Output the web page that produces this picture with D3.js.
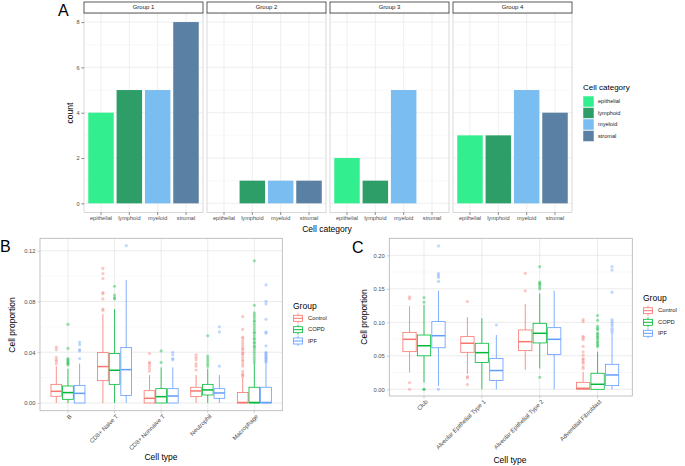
<!DOCTYPE html>
<html>
<head>
<meta charset="utf-8">
<script src="https://cdn.jsdelivr.net/npm/d3@7"></script>
<style>
body{margin:0;background:#fff}
svg{display:block;font-family:"Liberation Sans",Arial,sans-serif}
</style>
</head>
<body>
<svg id="chart" width="685" height="466"></svg>
<script>
// ---- panel A data
const groupsA=["Group 1","Group 2","Group 3","Group 4"];
const cellCats=["epithelial","lymphoid","myeloid","stromal"];
const countsA=[[4,5,5,8],[0,1,1,1],[2,1,5,0],[3,3,5,4]];
const catColors=["#33ee8e","#2e9e68","#7abdf0","#5a80a4"];
const yTicksA=[0,2,4,6,8];

// ---- shared groups for B and C
const statusGroups=["Control","COPD","IPF"];
const groupColors=["#F8766D","#00BA38","#619CFF"];

// ---- panel B data: [lower whisker, q1, median, q3, upper whisker]
const cellTypesB=["B","CD8+ Naive T","CD8+ Nonnaive T","Neutrophil","Macrophage"];
const statsB=[
  [[0,0.0053,0.0092,0.0147,0.029],[0,0.0029,0.0082,0.0134,0.027],[0,0,0.0076,0.0139,0.031]],
  [[0,0.0176,0.0287,0.0397,0.070],[0,0.0147,0.0258,0.039,0.074],[0,0.006,0.0263,0.0437,0.097]],
  [[0,0,0.0037,0.0097,0.022],[0,0,0.005,0.0113,0.028],[0,0,0.0055,0.0113,0.028]],
  [[0,0.005,0.0095,0.0124,0.022],[0,0.0063,0.0103,0.0147,0.027],[0,0.0037,0.0079,0.0113,0.022]],
  [[0,0,0.0004,0.0082,0.020],[0,0,0.0004,0.0124,0.031],[0,0,0.0004,0.0124,0.031]]
];
const outliersB=[
  [[0.044,0.042,0.036,0.034,0.033,0.031],[0.062,0.043,0.035,0.034,0.033,0.032,0.031,0.030],[0.048,0.046,0.042,0.041,0.035]],
  [[0.106,0.102,0.098,0.087,0.086,0.082,0.074,0.073],[0.092,0.085,0.083,0.082],[0.124]],
  [[0.039,0.032,0.031,0.029,0.027,0.025],[0.041,0.032],[0.040,0.038,0.035,0.034]],
  [[0.038,0.036,0.034,0.031,0.029,0.026],[0.053,0.037,0.035,0.033,0.031,0.029],[0.060,0.056,0.029]],
  [[0.068,0.058,0.052,0.051,0.049,0.047,0.045,0.043,0.042,0.040,0.039,0.038,0.036,0.034,0.033,0.031,0.029,0.025,0.023,0.022,0.021],
   [0.112,0.077,0.071,0.069,0.067,0.065,0.064,0.062,0.060,0.058,0.056,0.055,0.053,0.051,0.050,0.048,0.047,0.045,0.044,0.042,0.040,0.038,0.036,0.034,0.032],
   [0.093,0.080,0.078,0.066,0.056,0.055,0.045,0.040,0.039,0.038,0.037,0.036,0.035,0.034,0.033,0.032]]
];
const yTicksB=[0,0.04,0.08,0.12];

// ---- panel C data
const cellTypesC=["Club","Alveolar Epithelial Type 1","Alveolar Epithelial Type 2","Adventitial Fibroblast"];
const statsC=[
  [[0.025,0.0562,0.0746,0.085,0.124],[0.010,0.050,0.065,0.081,0.126],[0.005,0.062,0.080,0.101,0.147]],
  [[0.023,0.0552,0.0687,0.0786,0.1075],[0,0.040,0.0547,0.0687,0.106],[0,0.013,0.028,0.046,0.081]],
  [[0.029,0.0577,0.0711,0.0886,0.127],[0.031,0.0692,0.0836,0.0985,0.143],[0,0.052,0.0746,0.092,0.147]],
  [[0,0,0.0015,0.0104,0.026],[0,0,0.0075,0.0239,0.056],[0,0.0055,0.0214,0.0373,0.0836]]
];
const outliersC=[
  [[0.138,0.135,0.010,0],[0.137,0.130,0,0],[0.214,0.173,0.170,0.167,0.161,0]],
  [[0.131,0.019,0.017,0.007],[],[0.096]],
  [[0.173,0.147],[0.183,0.160,0.158,0.156,0.153,0.150,0.018],[]],
  [[0.104,0.101,0.079,0.077,0.074,0.064,0.056,0.051,0.046,0.044,0.041,0.039,0.034,0.031],
   [0.110,0.103,0.094,0.091,0.089,0.084,0.082,0.079,0.077,0.074,0.071,0.069,0.066,0.064],
   [0.183,0.178,0.145,0.104,0.101,0.098,0.095,0.091,0.088,0.085]]
];
const yTicksC=[0,0.05,0.10,0.15,0.20];

const svg=d3.select("#chart");
const tickCol="#4d4d4d";
const tickSize=5.8, titleSize=8.5;

function label(x,y,txt,size,opts){
  opts=opts||{};
  const t=svg.append("text").attr("x",x).attr("y",y).text(txt)
    .attr("font-size",size).attr("fill",opts.fill||"#000")
    .attr("text-anchor",opts.anchor||"start")
    .attr("dominant-baseline",opts.base||"middle");
  if(opts.rotate) t.attr("transform","rotate("+opts.rotate+","+x+","+y+")");
  return t;
}

// ================= Panel A =================
function panelA(){
  const top=13,bottom=212.4,w=119;
  const y=d3.scaleLinear().domain([-0.4,8.4]).range([bottom,top]);
  groupsA.forEach((g,gi)=>{
    const left=84+gi*123;
    const x=d3.scalePoint().domain(cellCats).range([left,left+w]).padding(0.6);
    const bw=x.step()*0.9;
    const p=svg.append("g");
    // minor grid
    [1,3,5,7].forEach(v=>p.append("line").attr("x1",left).attr("x2",left+w)
      .attr("y1",y(v)).attr("y2",y(v)).attr("stroke","#f2f2f2").attr("stroke-width",0.5));
    yTicksA.forEach(v=>p.append("line").attr("x1",left).attr("x2",left+w)
      .attr("y1",y(v)).attr("y2",y(v)).attr("stroke","#ebebeb").attr("stroke-width",0.8));
    cellCats.forEach(c=>p.append("line").attr("x1",x(c)).attr("x2",x(c))
      .attr("y1",top).attr("y2",bottom).attr("stroke","#ebebeb").attr("stroke-width",0.8));
    // bars
    p.selectAll("rect.bar").data(countsA[gi].map((v,i)=>({c:cellCats[i],v:v,i:i})).filter(d=>d.v>0))
      .enter().append("rect").attr("class","bar")
      .attr("x",d=>x(d.c)-bw/2).attr("width",bw)
      .attr("y",d=>y(d.v)).attr("height",d=>y(0)-y(d.v))
      .attr("fill",d=>catColors[d.i]);
    // border
    p.append("rect").attr("x",left).attr("y",top).attr("width",w).attr("height",bottom-top)
      .attr("fill","none").attr("stroke","#cfcfcf").attr("stroke-width",0.8);
    // strip
    p.append("rect").attr("x",left).attr("y",2).attr("width",w).attr("height",top-2)
      .attr("fill","#fff").attr("stroke","#333").attr("stroke-width",0.8);
    label(left+w/2,7.7,g,6,{anchor:"middle",fill:"#1a1a1a"});
    // x axis ticks + labels
    cellCats.forEach(c=>{
      p.append("line").attr("x1",x(c)).attr("x2",x(c)).attr("y1",bottom).attr("y2",bottom+2.5)
        .attr("stroke","#333").attr("stroke-width",0.6);
      label(x(c),bottom+6,c,5.6,{anchor:"middle",fill:tickCol});
    });
  });
  // y axis
  const ax=svg.append("g").attr("transform","translate(84,0)")
    .call(d3.axisLeft(y).tickValues(yTicksA).tickSize(2.5).tickPadding(2));
  ax.select(".domain").remove();
  ax.selectAll("line").attr("stroke","#333").attr("stroke-width",0.6);
  ax.selectAll("text").attr("font-size",5.6).attr("fill",tickCol).attr("font-family","Liberation Sans, Arial");
  label(71,113,"count",titleSize,{anchor:"middle",rotate:-90});
  label(327,229.5,"Cell category",titleSize,{anchor:"middle"});
  label(58,12,"A",16,{});
  // legend
  label(583,88,"Cell category",8,{});
  cellCats.forEach((c,i)=>{
    const ky=96+i*11.5;
    svg.append("rect").attr("x",583).attr("y",ky).attr("width",11).attr("height",11)
      .attr("fill",catColors[i]).attr("stroke","#fff").attr("stroke-width",0.5);
    label(598,ky+5.7,c,5.6,{fill:"#1a1a1a"});
  });
}

// ================= Box panels =================
function boxPanel(cfg){
  const {left,right,top,bottom,y,types,stats,outs,ticks,minor,fmt}=cfg;
  const x=d3.scalePoint().domain(types).range([left,right]).padding(0.6);
  const step=x.step();
  const p=svg.append("g");
  minor.forEach(v=>p.append("line").attr("x1",left).attr("x2",right)
    .attr("y1",y(v)).attr("y2",y(v)).attr("stroke","#f2f2f2").attr("stroke-width",0.5));
  ticks.forEach(v=>p.append("line").attr("x1",left).attr("x2",right)
    .attr("y1",y(v)).attr("y2",y(v)).attr("stroke","#e6e6e6").attr("stroke-width",0.8));
  types.forEach(t=>p.append("line").attr("x1",x(t)).attr("x2",x(t))
    .attr("y1",top).attr("y2",bottom).attr("stroke","#e6e6e6").attr("stroke-width",0.8));

  const bw=step*0.23;
  types.forEach((t,ti)=>{
    statusGroups.forEach((g,gi)=>{
      const cx=x(t)+(gi-1)*step*0.25;
      const s=stats[ti][gi], col=groupColors[gi];
      p.append("line").attr("x1",cx).attr("x2",cx).attr("y1",y(s[3])).attr("y2",y(s[4]))
        .attr("stroke",col).attr("stroke-width",0.8);
      p.append("line").attr("x1",cx).attr("x2",cx).attr("y1",y(s[1])).attr("y2",y(s[0]))
        .attr("stroke",col).attr("stroke-width",0.8);
      p.append("rect").attr("x",cx-bw/2).attr("width",bw)
        .attr("y",y(s[3])).attr("height",Math.max(0,y(s[1])-y(s[3])))
        .attr("fill","#fff").attr("stroke",col).attr("stroke-width",0.8);
      p.append("line").attr("x1",cx-bw/2).attr("x2",cx+bw/2).attr("y1",y(s[2])).attr("y2",y(s[2]))
        .attr("stroke",col).attr("stroke-width",1.5);
      p.selectAll(null).data(outs[ti][gi]).enter().append("circle")
        .attr("cx",cx).attr("cy",d=>y(d)).attr("r",1.6)
        .attr("fill",col).attr("opacity",0.4);
    });
  });
  p.append("rect").attr("x",left).attr("y",top).attr("width",right-left).attr("height",bottom-top)
    .attr("fill","none").attr("stroke","#b3b3b3").attr("stroke-width",0.8);
  // y axis
  const ax=svg.append("g").attr("transform","translate("+left+",0)")
    .call(d3.axisLeft(y).tickValues(ticks).tickFormat(d3.format(fmt)).tickSize(2.5).tickPadding(2));
  ax.select(".domain").remove();
  ax.selectAll("line").attr("stroke","#b3b3b3").attr("stroke-width",0.6);
  ax.selectAll("text").attr("font-size",tickSize).attr("fill",tickCol).attr("font-family","Liberation Sans, Arial");
  // x ticks and rotated labels
  types.forEach(t=>{
    p.append("line").attr("x1",x(t)).attr("x2",x(t)).attr("y1",bottom).attr("y2",bottom+2.5)
      .attr("stroke","#b3b3b3").attr("stroke-width",0.6);
    svg.append("text").attr("x",0).attr("y",0)
      .attr("transform","translate("+(x(t)+2)+","+(bottom+4)+") rotate(-45)")
      .attr("text-anchor","end").attr("dy","0.5em")
      .attr("font-size",6).attr("fill",tickCol).text(t);
  });
}

function groupLegend(lx,ly,keys){
  label(lx,ly,"Group",titleSize,{});
  statusGroups.forEach((g,i)=>{
    const cy=keys[i], col=groupColors[i], kx=lx+5;
    svg.append("line").attr("x1",kx).attr("x2",kx).attr("y1",cy-5).attr("y2",cy+5).attr("stroke",col).attr("stroke-width",0.8);
    svg.append("rect").attr("x",kx-4.5).attr("y",cy-3).attr("width",9).attr("height",6)
      .attr("fill","#fff").attr("stroke",col).attr("stroke-width",0.8);
    svg.append("line").attr("x1",kx-4.5).attr("x2",kx+4.5).attr("y1",cy).attr("y2",cy).attr("stroke",col).attr("stroke-width",1);
    label(lx+15,cy,g,5.8,{fill:"#1a1a1a"});
  });
}

panelA();

boxPanel({left:40,right:282.3,top:238.3,bottom:410.7,
  y:d3.scaleLinear().domain([0,0.12]).range([403,250.7]),
  types:cellTypesB,stats:statsB,outs:outliersB,ticks:yTicksB,minor:[0.02,0.06,0.10],fmt:".2f"});
label(13,325,"Cell proportion",titleSize,{anchor:"middle",rotate:-90});
label(161,458,"Cell type",titleSize,{anchor:"middle"});
label(0,248,"B",16,{});
groupLegend(293,307,[318.3,329.7,341]);

boxPanel({left:389.3,right:632.3,top:238.3,bottom:396,
  y:d3.scaleLinear().domain([0,0.2]).range([389.3,255.3]),
  types:cellTypesC,stats:statsC,outs:outliersC,ticks:yTicksC,minor:[0.025,0.075,0.125,0.175],fmt:".2f"});
label(365,317,"Cell proportion",titleSize,{anchor:"middle",rotate:-90});
label(510,461,"Cell type",titleSize,{anchor:"middle"});
label(352,249,"C",16,{});
groupLegend(643,299,[310.7,322.3,333.3]);
</script>
</body>
</html>
